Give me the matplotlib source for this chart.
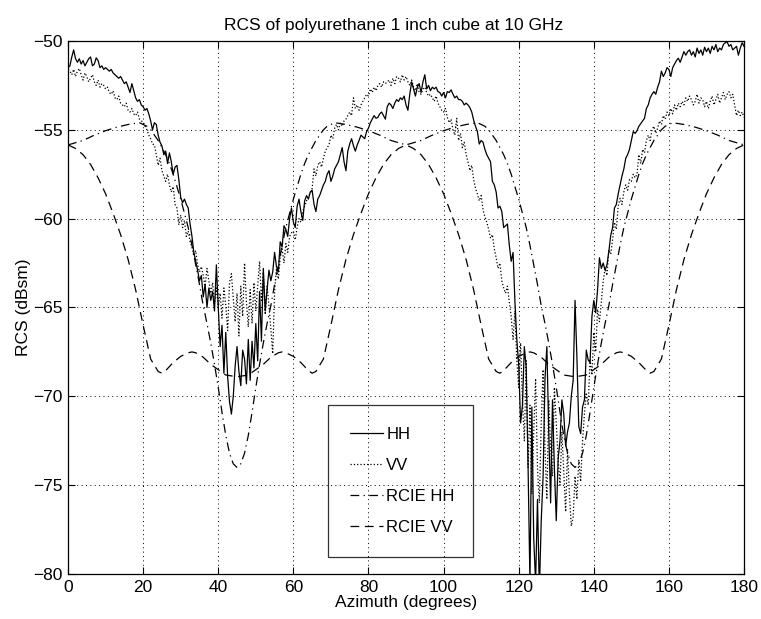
import numpy as np
import matplotlib
matplotlib.use("Agg")
import matplotlib.pyplot as plt

plt.rcParams['font.family'] = ['Liberation Sans', 'DejaVu Sans']

# measured HH / VV, sampled every 0.5 degree from 0 to 180
azimuth = np.arange(0, 180.5, 0.5)

hh = [
    -51.5, -51.4, -50.9, -50.5, -51.0, -51.2, -51.0, -51.3, -51.1, -51.4,
    -51.2, -51.0, -50.9, -51.4, -51.3, -50.95, -51.1, -51.5, -51.4, -51.6,
    -51.5, -51.6, -51.7, -51.6, -51.8, -51.9, -52.0, -52.1, -52.0, -52.2,
    -52.4, -52.3, -52.6, -52.9, -52.4, -52.8, -53.2, -53.4, -53.3, -53.6,
    -53.7, -53.9, -53.8, -54.1, -54.5, -55.0, -54.6, -54.7, -55.3, -55.7,
    -55.9, -56.4, -56.2, -56.9, -56.3, -56.8, -57.5, -57.1, -57.0, -57.8,
    -58.8, -59.1, -58.9, -59.2, -59.4, -60.3, -61.0, -61.9, -62.4, -62.9,
    -63.5, -63.2, -64.4, -63.7, -65.0, -63.9, -64.6, -64.1, -65.2, -62.6,
    -65.0, -67.2, -66.0, -68.7, -66.4, -68.9, -70.3, -71.0, -70.0, -68.3,
    -67.2, -68.6, -69.4, -67.4, -67.9, -69.3, -66.8, -69.1, -66.9, -68.4,
    -65.9, -68.0, -64.1, -66.9, -62.8, -65.2, -64.0, -62.9, -63.5, -63.0,
    -61.9, -62.7, -63.0, -61.3, -61.6, -60.4, -60.6, -61.0, -60.0, -59.4,
    -60.2, -60.5, -59.3, -58.9, -59.6, -60.1, -59.0, -58.7, -58.9, -58.5,
    -58.4, -59.2, -59.6, -58.9, -58.7, -58.4, -58.1, -57.9, -57.5, -57.3,
    -57.9, -57.6, -57.2, -57.0, -56.8, -56.4, -56.0, -56.8, -57.3, -56.2,
    -55.8, -55.5, -55.9, -56.2, -55.85, -55.6, -55.3, -55.4, -55.5, -55.1,
    -54.9, -54.6, -54.4, -54.2, -54.35, -54.3, -54.1, -54.0, -54.2, -54.4,
    -53.7, -53.5, -53.6, -53.8, -53.5, -53.3, -53.4, -53.2, -53.3, -53.1,
    -53.6, -53.9, -53.0, -52.3, -52.7, -53.1, -52.6, -52.4, -52.9, -52.3,
    -51.9, -52.7, -52.5, -52.8, -52.6, -52.7, -52.6, -52.85, -52.9, -53.1,
    -52.9, -53.2, -52.85, -52.9, -52.75, -53.0, -53.2, -53.1, -53.3, -53.3,
    -53.4, -53.6, -53.5, -53.6, -53.75, -54.0, -54.45, -54.8, -55.1, -55.8,
    -55.6, -55.7, -56.1, -56.4, -56.6, -56.8, -57.9, -58.1, -58.5, -59.4,
    -59.3, -59.6, -60.5, -60.4, -60.3, -61.5, -62.4, -61.9, -64.7, -66.8,
    -68.2, -71.5, -70.5, -67.2, -68.4, -74.0, -80.5, -70.6, -78.0, -80.5,
    -75.8, -81.0, -77.0, -74.5, -69.0, -67.2, -72.0, -76.0, -70.2, -74.0,
    -77.0, -73.5, -72.5, -70.2, -71.0, -72.8, -72.0, -71.5, -70.0, -69.1,
    -64.6, -67.8, -71.7, -72.1, -70.6, -70.2, -67.4, -67.95, -68.1, -65.5,
    -64.6, -65.3, -64.0, -62.2, -62.8, -62.5, -62.9, -62.6, -61.85, -60.95,
    -60.5, -59.4, -59.2, -58.6, -58.1, -57.6, -57.2, -56.6, -56.4, -56.1,
    -55.6, -55.1, -55.2, -55.05, -54.8, -54.65, -54.5, -54.35, -53.8, -53.6,
    -53.2, -53.0, -52.85, -53.0, -52.6, -52.3, -51.7, -52.0, -51.8, -51.5,
    -51.6, -52.0, -51.5, -51.3, -51.1, -50.97, -51.2, -50.9, -50.6, -50.8,
    -50.6, -50.5, -50.8, -50.6, -50.9, -50.4, -50.7, -50.5, -50.8, -50.35,
    -50.6, -50.4, -50.7, -50.3, -50.5, -50.2, -50.6, -50.4, -50.5, -50.2,
    -50.1, -50.05, -50.3, -50.2, -50.5, -50.4, -50.3, -50.8, -50.4, -50.1,
    -50.3,
]

vv = [
    -51.6, -51.7, -51.9, -51.6, -52.0, -51.7, -51.55, -51.9, -52.2, -51.8,
    -52.0, -52.3, -52.1, -51.9, -52.3, -52.5, -52.2, -52.6, -52.4, -52.5,
    -52.7, -52.6, -52.9, -53.0, -52.8, -53.2, -53.3, -53.1, -53.5, -53.6,
    -53.7, -53.5, -53.9, -54.0, -53.8, -54.1, -54.2, -54.0, -54.4, -54.5,
    -54.55, -54.8, -55.0, -55.3, -55.5, -55.8, -55.85, -56.4, -57.0, -56.6,
    -57.3, -57.6, -57.9, -57.5, -58.1, -58.5, -58.2, -59.2, -59.4, -60.35,
    -59.8, -60.5, -60.1, -61.0, -60.7, -61.3, -61.6, -62.1, -61.8, -62.6,
    -63.0, -62.7, -63.2, -63.8, -62.8, -63.5, -64.2, -63.6, -64.8, -63.9,
    -65.0, -64.2, -65.6, -63.9, -64.9, -66.3, -63.6, -63.1, -64.5, -65.8,
    -64.2, -66.6, -63.8, -65.5, -62.5, -64.7, -66.1, -64.0, -65.9, -63.6,
    -65.2, -63.8, -62.4, -64.6, -63.0, -65.4, -63.8, -64.9, -66.2, -67.6,
    -64.1, -62.8, -63.4, -62.2, -61.7, -62.5, -61.4, -61.9, -61.0, -60.8,
    -60.7, -61.2, -60.5, -60.0, -60.2, -59.6, -59.3, -59.0, -58.7, -58.6,
    -58.3, -57.2, -57.6, -57.0, -56.8, -57.1, -56.6, -56.2, -56.0, -55.85,
    -55.3, -55.5, -54.9, -54.7, -55.0, -54.6, -54.8, -54.5, -54.4, -54.2,
    -54.0, -54.2, -53.2, -53.8, -53.6, -53.9, -53.6, -53.4, -53.2, -53.0,
    -53.1, -52.7, -52.9, -52.6, -52.8, -52.5, -52.4, -52.6, -52.3, -52.4,
    -52.3, -52.2, -52.5, -52.1, -52.4, -52.0, -52.1, -52.3, -51.9, -52.2,
    -52.0, -52.3, -52.5, -52.2, -52.6, -52.8, -52.4, -52.9, -53.0, -52.7,
    -52.6, -52.9, -53.1, -53.0, -53.2, -53.4, -53.1, -53.5, -53.7, -53.9,
    -54.0, -53.8, -54.3, -54.6, -54.4, -55.0, -55.3, -54.35, -55.6, -55.2,
    -56.0, -55.7, -56.4, -56.8, -57.3, -57.0, -57.8, -58.3, -58.6, -59.0,
    -58.7, -59.5, -59.9, -60.2, -60.6, -61.1, -60.9, -61.7, -62.2, -62.8,
    -62.5, -63.5, -63.9, -64.2, -63.8, -64.7, -65.5, -66.8, -65.2, -68.0,
    -69.5, -67.0, -70.2, -72.5, -68.0, -74.0, -70.5, -75.5, -72.0, -69.0,
    -74.0, -76.0, -71.5, -68.5, -73.0, -75.8, -70.2, -72.8, -74.5, -69.5,
    -71.5, -73.5, -75.0, -72.0, -74.2, -76.5, -73.0, -75.5, -77.3, -76.8,
    -74.5, -75.8, -73.6, -74.8, -72.5, -71.0, -69.8, -70.5, -67.95, -68.8,
    -66.4, -67.5, -65.1, -65.8, -64.7, -63.5, -62.8, -63.2, -61.75, -62.0,
    -61.2, -60.2, -60.6, -59.3, -58.85, -59.2, -58.5, -58.1, -58.4, -57.8,
    -57.9, -57.5, -57.7, -57.5, -56.4, -56.9, -56.1, -56.3, -55.6, -55.3,
    -55.6, -55.0, -54.8, -55.2, -54.9, -54.5, -54.7, -54.2, -54.4, -54.0,
    -54.2, -53.8, -54.1, -53.6, -53.9, -53.5, -53.7, -53.4, -53.6, -53.2,
    -53.4, -53.1, -53.3, -53.6, -53.4, -53.0, -53.5, -53.2, -53.3, -53.7,
    -53.4, -53.8, -53.4, -53.1, -53.6, -53.3, -53.0, -53.5, -53.2, -52.9,
    -53.3, -53.0, -52.85, -53.2, -53.0, -53.6, -54.2, -53.9, -54.2, -54.0,
    -54.3,
]

# RCIE predictions (smooth curves)
rcie_hh_az = [0, 4, 7, 10, 13, 16, 19, 20, 21, 22, 23, 24, 25, 26, 27, 28,
              29, 30, 31, 32, 33, 34, 35, 36, 37, 38, 39, 40, 41, 42, 43, 44,
              45, 46, 47, 48, 49, 50, 51, 52, 53, 54, 55, 56, 57, 58, 59, 60,
              61, 62, 63, 64, 65, 66, 67, 68, 69, 70, 71, 74, 77, 80, 83, 86,
              90, 94, 97, 100, 103, 106, 109, 110, 111, 112, 113, 114, 115,
              116, 117, 118, 119, 120, 121, 122, 123, 124, 125, 126, 127, 128,
              129, 130, 131, 132, 133, 134, 135, 136, 137, 138, 139, 140, 141,
              142, 143, 144, 145, 146, 147, 148, 149, 150, 151, 152, 153, 154,
              155, 156, 157, 158, 159, 160, 161, 164, 167, 170, 173, 176, 180]
rcie_hh = [-55.85, -55.6, -55.3, -55.05, -54.85, -54.7, -54.6, -54.7, -54.8,
           -55.0, -55.3, -55.6, -56.0, -56.4, -56.9, -57.5, -58.2, -58.9,
           -59.7, -60.5, -61.5, -62.6, -63.7, -64.9, -65.9, -67.0, -68.2,
           -69.5, -70.9, -72.2, -73.2, -73.8, -74.0, -73.8, -73.2, -72.2,
           -70.9, -69.5, -68.2, -67.0, -65.9, -64.9, -63.7, -62.6, -61.5,
           -60.5, -59.7, -58.9, -58.2, -57.5, -56.9, -56.4, -56.0, -55.6,
           -55.3, -55.0, -54.8, -54.7, -54.6, -54.7, -54.85, -55.05, -55.3,
           -55.6, -55.85, -55.6, -55.3, -55.05, -54.85, -54.7, -54.6, -54.7,
           -54.8, -55.0, -55.3, -55.6, -56.0, -56.4, -56.9, -57.5, -58.2,
           -58.9, -59.7, -60.5, -61.5, -62.6, -63.7, -64.9, -65.9, -67.0,
           -68.2, -69.5, -70.9, -72.2, -73.2, -73.8, -74.0, -73.8, -73.2,
           -72.2, -70.9, -69.5, -68.2, -67.0, -65.9, -64.9, -63.7, -62.6,
           -61.5, -60.5, -59.7, -58.9, -58.2, -57.5, -56.9, -56.4, -56.0,
           -55.6, -55.3, -55.0, -54.8, -54.7, -54.6, -54.7, -54.85, -55.05,
           -55.3, -55.6, -55.85]

rcie_vv_az = [0, 2, 4, 6, 8, 10, 12, 14, 16, 18, 20, 22, 24, 25, 26, 28, 30,
              32, 33, 34, 36, 38, 40, 42, 45, 48, 50, 52, 54, 56, 57, 58, 60,
              62, 64, 65, 66, 68, 70, 72, 74, 76, 78, 80, 82, 84, 86, 88, 90,
              92, 94, 96, 98, 100, 102, 104, 106, 108, 110, 112, 114, 115, 116,
              118, 120, 122, 123, 124, 126, 128, 130, 132, 135, 138, 140, 142,
              144, 146, 147, 148, 150, 152, 154, 155, 156, 158, 160, 162, 164,
              166, 168, 170, 172, 174, 176, 178, 180]
rcie_vv = [-55.85, -56.05, -56.4, -56.95, -57.7, -58.6, -59.7, -60.9, -62.3,
           -64.0, -66.0, -67.9, -68.6, -68.7, -68.55, -68.1, -67.75, -67.55,
           -67.5, -67.55, -67.8, -68.2, -68.5, -68.8, -68.9, -68.8, -68.5,
           -68.2, -67.8, -67.55, -67.5, -67.55, -67.75, -68.1, -68.55, -68.7,
           -68.6, -67.9, -66.0, -64.0, -62.3, -60.9, -59.7, -58.6, -57.7,
           -56.95, -56.4, -56.05, -55.85, -56.05, -56.4, -56.95, -57.7,
           -58.6, -59.7, -60.9, -62.3, -64.0, -66.0, -67.9, -68.6, -68.7,
           -68.55, -68.1, -67.75, -67.55, -67.5, -67.55, -67.8, -68.2, -68.5,
           -68.8, -68.9, -68.8, -68.5, -68.2, -67.8, -67.55, -67.5, -67.55,
           -67.75, -68.1, -68.55, -68.7, -68.6, -67.9, -66.0, -64.0, -62.3,
           -60.9, -59.7, -58.6, -57.7, -56.95, -56.4, -56.05, -55.85]

fig = plt.figure(figsize=(7.61, 6.19), dpi=100)
ax = fig.add_axes([0.0894, 0.0727, 0.8883, 0.8611])

lw = 0.9
ax.plot(azimuth, hh, color='black', linewidth=lw, linestyle='-', label='HH')
ax.plot(azimuth, vv, color='black', linewidth=lw, linestyle=':', label='VV')
ax.plot(rcie_hh_az, rcie_hh, color='black', linewidth=lw,
        linestyle=(0, (7, 3.5, 1, 3.5)), label='RCIE HH')
ax.plot(rcie_vv_az, rcie_vv, color='black', linewidth=lw,
        linestyle=(0, (7, 4.5)), label='RCIE VV')

ax.set_xlim(0, 180)
ax.set_ylim(-80, -50)
ax.set_xticks(np.arange(0, 181, 20))
ax.set_yticks(np.arange(-80, -49, 5))
ax.grid(True, color='black', linestyle=(0, (1, 3.5)), linewidth=0.7)
ax.tick_params(direction='in', top=True, right=True, length=5, width=0.8,
               labelsize=12.5, pad=4)
for s in ax.spines.values():
    s.set_linewidth(0.9)

ax.set_title('RCS of polyurethane 1 inch cube at 10 GHz', fontsize=12.5,
             pad=8, x=0.481)
ax.set_xlabel('Azimuth (degrees)', fontsize=12.5, labelpad=0)
ax.set_ylabel('RCS (dBsm)', fontsize=12.5, labelpad=1)

leg = ax.legend(loc='lower left', bbox_to_anchor=(0.3846, 0.0319, 0.2145, 0.283),
                mode='expand', fontsize=12, handlelength=2.0, handletextpad=0.2,
                labelspacing=0.97, borderpad=1.3, borderaxespad=0, fancybox=False,
                edgecolor='black')
leg.get_frame().set_facecolor('none')
leg.get_frame().set_linewidth(0.9)

fig.savefig('out.png', dpi=100, facecolor='white')
